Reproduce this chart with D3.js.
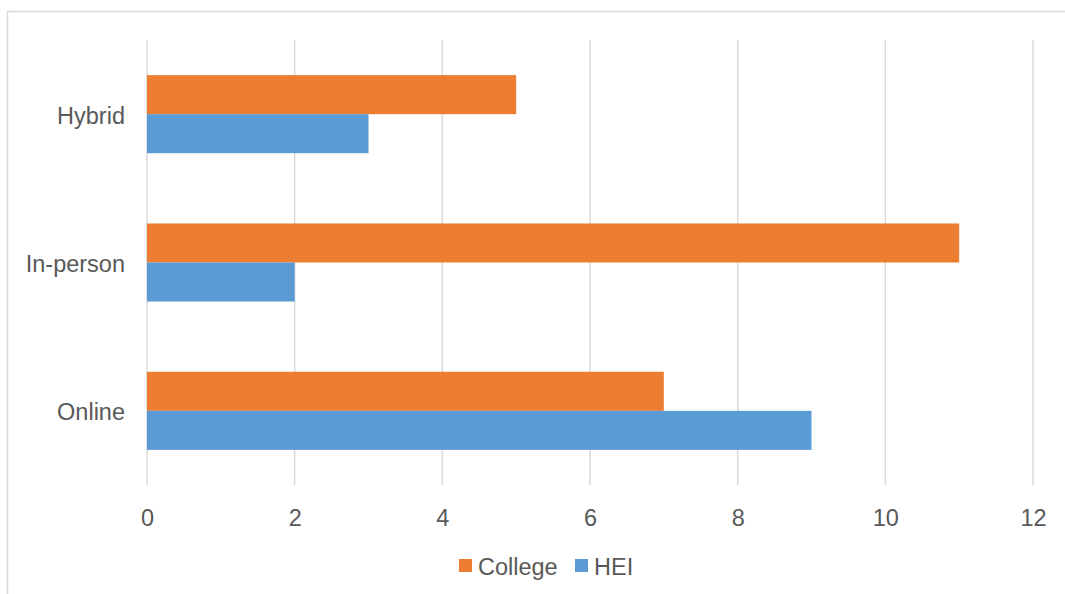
<!DOCTYPE html>
<html>
<head>
<meta charset="utf-8">
<script src="https://cdn.jsdelivr.net/npm/d3@7.9.0/dist/d3.min.js"></script>
<style>
  body { margin: 0; background: #fff; }
  svg { display: block; font-family: "Liberation Sans", Arial, sans-serif; }
</style>
</head>
<body>
<div id="chart"></div>
<script>
const categories = ['Hybrid', 'In-person', 'Online'];
const seriesNames = ['College', 'HEI'];
const college = [5, 11, 7];
const hei = [3, 2, 9];
const xTicks = [0, 2, 4, 6, 8, 10, 12];

const colors = { College: '#ED7D31', HEI: '#5B9BD5' };

const width = 1065;
const height = 594;
const plot = { left: 147, right: 1033, top: 40, bottom: 485 };

const svg = d3.select('#chart').append('svg')
  .attr('width', width)
  .attr('height', height);

// outer chart frame (only top/left visible in the crop)
svg.append('rect')
  .attr('x', 7.5).attr('y', 11.5)
  .attr('width', width + 10).attr('height', height + 10)
  .attr('fill', 'none')
  .attr('stroke', '#d9d9d9')
  .attr('stroke-width', 1.5);

const xScale = d3.scaleLinear().domain([0, 12]).range([plot.left, plot.right]);
const yScale = d3.scaleBand().domain(categories).range([plot.top, plot.bottom]);
const inner = d3.scaleBand().domain(seriesNames)
  .range([0, yScale.bandwidth() / 1.9]);
const offset = (yScale.bandwidth() - inner.range()[1]) / 2;

// gridlines
svg.append('g')
  .selectAll('line')
  .data(xTicks)
  .join('line')
  .attr('x1', (d) => xScale(d)).attr('x2', (d) => xScale(d))
  .attr('y1', plot.top).attr('y2', plot.bottom)
  .attr('stroke', '#d9d9d9')
  .attr('stroke-width', 1.5);

const rows = categories.map((c, i) => ({ cat: c, College: college[i], HEI: hei[i] }));

const groups = svg.append('g')
  .selectAll('g')
  .data(rows)
  .join('g')
  .attr('transform', (d) => `translate(0, ${yScale(d.cat) + offset})`);

groups.selectAll('rect')
  .data((d) => seriesNames.map((s) => ({ s, v: d[s] })))
  .join('rect')
  .attr('x', xScale(0))
  .attr('y', (d) => inner(d.s))
  .attr('width', (d) => xScale(d.v) - xScale(0))
  .attr('height', inner.bandwidth())
  .attr('fill', (d) => colors[d.s]);

// x axis labels
const xAxis = svg.append('g')
  .attr('transform', `translate(0, ${plot.bottom + 20})`)
  .call(d3.axisBottom(xScale).tickValues(xTicks).tickSize(0).tickPadding(4));
xAxis.select('.domain').remove();
xAxis.selectAll('text')
  .attr('font-size', 23.5)
  .attr('fill', '#595959')
  .attr('font-family', '"Liberation Sans", Arial, sans-serif');

// y axis labels
const yAxis = svg.append('g')
  .attr('transform', `translate(${plot.left - 22}, 2)`)
  .call(d3.axisLeft(yScale).tickSize(0).tickPadding(0));
yAxis.select('.domain').remove();
yAxis.selectAll('text')
  .attr('font-size', 23.5)
  .attr('fill', '#595959')
  .attr('font-family', '"Liberation Sans", Arial, sans-serif');

// legend
const legendX = [459, 575];
const legend = svg.append('g')
  .selectAll('g')
  .data(seriesNames)
  .join('g')
  .attr('transform', (d, i) => `translate(${legendX[i]}, 559)`);
legend.append('rect')
  .attr('width', 13).attr('height', 13)
  .attr('fill', (d) => colors[d]);
legend.append('text')
  .attr('x', 19).attr('y', 16)
  .attr('font-size', 23.5)
  .attr('fill', '#595959')
  .text((d) => d);
</script>
</body>
</html>
